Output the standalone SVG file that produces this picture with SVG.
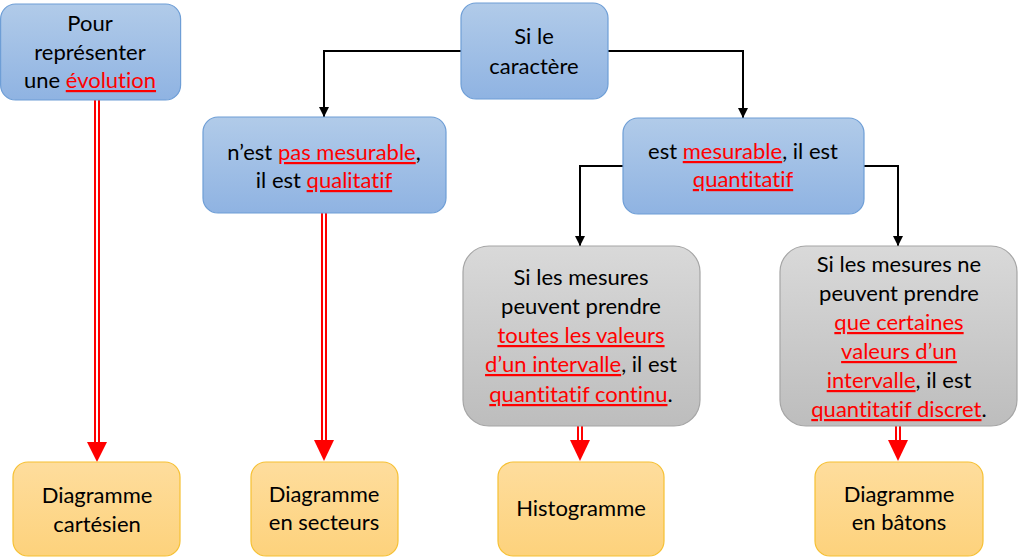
<svg xmlns="http://www.w3.org/2000/svg" width="1018" height="559" viewBox="0 0 1018 559">
<defs>
<linearGradient id="gBlue" x1="0" y1="0" x2="0" y2="1"><stop offset="0" stop-color="#b1cbe9"/><stop offset="1" stop-color="#8fb3e2"/></linearGradient>
<linearGradient id="gGray" x1="0" y1="0" x2="0" y2="1"><stop offset="0" stop-color="#d9d9d9"/><stop offset="1" stop-color="#bdbdbd"/></linearGradient>
<linearGradient id="gOr" x1="0" y1="0" x2="0" y2="1"><stop offset="0" stop-color="#fedd9d"/><stop offset="1" stop-color="#fdd27c"/></linearGradient>
<marker id="ab" viewBox="0 0 10 10" refX="10" refY="5" markerWidth="5" markerHeight="5" orient="auto" markerUnits="strokeWidth"><path d="M0,0 L10,5 L0,10 z" fill="#000"/></marker>
</defs>
<style>
.blue{fill:url(#gBlue);stroke:#6e9ed6;stroke-width:1.2}
.gray{fill:url(#gGray);stroke:#a5a5a5;stroke-width:1.2}
.or{fill:url(#gOr);stroke:#f6c033;stroke-width:1.2}
text{font-family:Lato,"Liberation Sans",sans-serif;font-size:22px;fill:#000;text-anchor:middle;font-variant-ligatures:none;font-feature-settings:"liga" 0}
.r{fill:#ff0000;text-decoration:underline;text-decoration-thickness:2px}
.blk{fill:none;stroke:#000;stroke-width:2;marker-end:url(#ab)}
.dr{stroke:#ff0000;stroke-width:6;fill:none}
.dw{stroke:#ffffff;stroke-width:2;fill:none}
.ah{fill:#ff0000}
</style>
<rect width="1018" height="559" fill="#fff"/>
<g id="connectors">
<path class="blk" d="M461,51 H324 V117"/>
<path class="blk" d="M608,51 H743 V118"/>
<path class="blk" d="M623,166 H580 V246"/>
<path class="blk" d="M864,166 H898 V246"/>
<line class="dr" x1="97" y1="100" x2="97" y2="443"/><line class="dw" x1="97" y1="100" x2="97" y2="443"/>
<polygon class="ah" points="87,442 107,442 97,462"/>
<line class="dr" x1="324" y1="213" x2="324" y2="441"/><line class="dw" x1="324" y1="213" x2="324" y2="441"/>
<polygon class="ah" points="314,440 334,440 324,461"/>
<line class="dr" x1="580" y1="426" x2="580" y2="441"/><line class="dw" x1="580" y1="426" x2="580" y2="441"/>
<polygon class="ah" points="570,440 590,440 580,461"/>
<line class="dr" x1="898" y1="426" x2="898" y2="441"/><line class="dw" x1="898" y1="426" x2="898" y2="441"/>
<polygon class="ah" points="888,440 908,440 898,461"/>
</g>
<g id="n-evolution">
<rect class="blue" x="0.6" y="4" width="180" height="96" rx="15"/>
<text x="90" y="31">Pour</text>
<text x="90" y="60">représenter</text>
<text x="90" y="88">une <tspan class="r">évolution</tspan></text>
</g>
<g id="n-caractere">
<rect class="blue" x="461" y="3" width="147" height="96" rx="15"/>
<text x="534" y="44">Si le</text>
<text x="534" y="74">caractère</text>
</g>
<g id="n-qualitatif">
<rect class="blue" x="203" y="117" width="243" height="96" rx="15"/>
<text x="324" y="160">n’est <tspan class="r">pas mesurable</tspan>,</text>
<text x="324" y="188">il est <tspan class="r">qualitatif</tspan></text>
</g>
<g id="n-quantitatif">
<rect class="blue" x="623" y="118" width="241" height="96" rx="15"/>
<text x="743" y="159">est <tspan class="r">mesurable</tspan>, il est</text>
<text x="743" y="187"><tspan class="r">quantitatif</tspan></text>
</g>
<g id="n-continu">
<rect class="gray" x="463" y="246" width="237" height="180" rx="26"/>
<text x="581" y="285">Si les mesures</text>
<text x="581" y="314">peuvent prendre</text>
<text x="581" y="343"><tspan class="r">toutes les valeurs</tspan></text>
<text x="581" y="372"><tspan class="r">d’un intervalle</tspan>, il est</text>
<text x="581" y="402"><tspan class="r">quantitatif continu</tspan>.</text>
</g>
<g id="n-discret">
<rect class="gray" x="780" y="246" width="237" height="180" rx="26"/>
<text x="899" y="272">Si les mesures ne</text>
<text x="899" y="301">peuvent prendre</text>
<text x="899" y="330"><tspan class="r">que certaines</tspan></text>
<text x="899" y="359"><tspan class="r">valeurs d’un</tspan></text>
<text x="899" y="388"><tspan class="r">intervalle</tspan>, il est</text>
<text x="899" y="417"><tspan class="r">quantitatif discret</tspan>.</text>
</g>
<g id="n-cartesien">
<rect class="or" x="13" y="462" width="167" height="94" rx="15"/>
<text x="97" y="503">Diagramme</text>
<text x="97" y="532">cartésien</text>
</g>
<g id="n-secteurs">
<rect class="or" x="251" y="462" width="147" height="94" rx="15"/>
<text x="324" y="502">Diagramme</text>
<text x="324" y="530">en secteurs</text>
</g>
<g id="n-histogramme">
<rect class="or" x="498" y="462" width="166" height="94" rx="15"/>
<text x="581" y="516">Histogramme</text>
</g>
<g id="n-batons">
<rect class="or" x="815" y="462" width="168" height="94" rx="15"/>
<text x="899" y="502">Diagramme</text>
<text x="899" y="530">en bâtons</text>
</g>
</svg>
